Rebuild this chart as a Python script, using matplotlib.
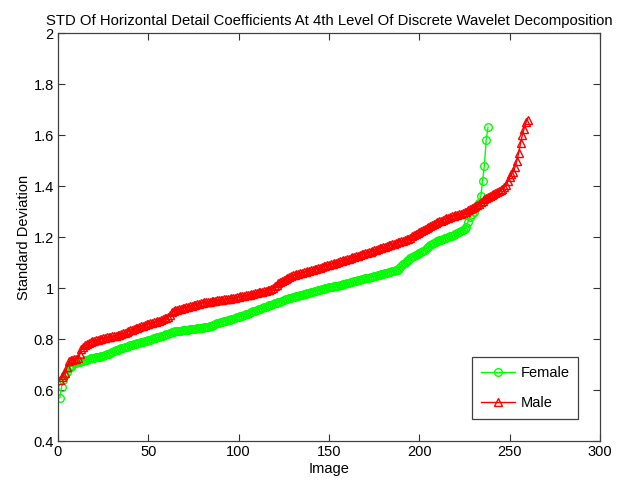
import matplotlib
matplotlib.use("Agg")
import matplotlib.pyplot as plt
import numpy as np

plt.rcParams['font.family'] = ['Liberation Sans', 'DejaVu Sans']

title = "STD Of Horizontal Detail Coefficients At 4th Level Of Discrete Wavelet Decomposition"
xlabel = "Image"
ylabel = "Standard Deviation"
series_names = ["Female", "Male"]
xticks = [0, 50, 100, 150, 200, 250, 300]
yticks = [0.4, 0.6, 0.8, 1.0, 1.2, 1.4, 1.6, 1.8, 2.0]
ytick_labels = ["0.4", "0.6", "0.8", "1", "1.2", "1.4", "1.6", "1.8", "2"]

female = [
    0.569, 0.613, 0.640, 0.659, 0.672, 0.685, 0.692, 0.699, 0.704, 0.707,
    0.709, 0.711, 0.713, 0.715, 0.717, 0.719, 0.722, 0.724, 0.726, 0.727,
    0.728, 0.730, 0.731, 0.733, 0.735, 0.737, 0.740, 0.743, 0.746, 0.749,
    0.752, 0.755, 0.758, 0.760, 0.763, 0.765, 0.767, 0.770, 0.772, 0.775,
    0.777, 0.779, 0.781, 0.783, 0.785, 0.787, 0.789, 0.791, 0.793, 0.795,
    0.797, 0.799, 0.802, 0.804, 0.806, 0.808, 0.811, 0.813, 0.815, 0.818,
    0.820, 0.823, 0.826, 0.828, 0.830, 0.831, 0.832, 0.833, 0.834, 0.835,
    0.836, 0.837, 0.838, 0.839, 0.840, 0.841, 0.842, 0.843, 0.844, 0.845,
    0.846, 0.847, 0.848, 0.850, 0.852, 0.855, 0.858, 0.861, 0.863, 0.866,
    0.868, 0.870, 0.872, 0.874, 0.876, 0.878, 0.880, 0.882, 0.885, 0.887,
    0.889, 0.891, 0.894, 0.897, 0.900, 0.902, 0.905, 0.908, 0.910, 0.913,
    0.916, 0.918, 0.921, 0.924, 0.927, 0.930, 0.933, 0.935, 0.938, 0.940,
    0.943, 0.945, 0.947, 0.950, 0.952, 0.955, 0.957, 0.960, 0.962, 0.964,
    0.966, 0.968, 0.970, 0.972, 0.974, 0.976, 0.978, 0.980, 0.982, 0.984,
    0.986, 0.988, 0.990, 0.992, 0.994, 0.996, 0.998, 1.000, 1.001, 1.002,
    1.004, 1.005, 1.006, 1.008, 1.009, 1.010, 1.012, 1.014, 1.016, 1.018,
    1.020, 1.022, 1.024, 1.026, 1.028, 1.030, 1.032, 1.034, 1.036, 1.038,
    1.040, 1.041, 1.043, 1.045, 1.047, 1.049, 1.050, 1.052, 1.054, 1.056,
    1.058, 1.060, 1.062, 1.064, 1.066, 1.068, 1.070, 1.072, 1.078, 1.085,
    1.093, 1.100, 1.106, 1.111, 1.116, 1.120, 1.124, 1.128, 1.132, 1.136,
    1.140, 1.145, 1.150, 1.156, 1.162, 1.168, 1.173, 1.178, 1.182, 1.185,
    1.188, 1.190, 1.193, 1.195, 1.197, 1.200, 1.202, 1.205, 1.208, 1.212,
    1.216, 1.220, 1.224, 1.228, 1.233, 1.240, 1.260, 1.280, 1.290, 1.300,
    1.310, 1.320, 1.335, 1.360, 1.420, 1.480, 1.580, 1.630,
]

male = [
    0.639, 0.650, 0.660, 0.667, 0.690, 0.712, 0.716, 0.719, 0.721, 0.723,
    0.725, 0.740, 0.760, 0.768, 0.775, 0.780, 0.784, 0.788, 0.791, 0.794,
    0.796, 0.798, 0.800, 0.801, 0.803, 0.804, 0.806, 0.807, 0.808, 0.810,
    0.811, 0.813, 0.815, 0.817, 0.820, 0.822, 0.825, 0.828, 0.831, 0.834,
    0.837, 0.839, 0.842, 0.844, 0.847, 0.850, 0.852, 0.855, 0.857, 0.860,
    0.862, 0.864, 0.866, 0.868, 0.870, 0.872, 0.875, 0.878, 0.881, 0.884,
    0.887, 0.895, 0.905, 0.911, 0.913, 0.915, 0.917, 0.919, 0.921, 0.923,
    0.925, 0.927, 0.929, 0.931, 0.933, 0.935, 0.937, 0.939, 0.941, 0.943,
    0.944, 0.945, 0.946, 0.947, 0.948, 0.949, 0.950, 0.951, 0.952, 0.953,
    0.954, 0.955, 0.956, 0.957, 0.958, 0.959, 0.960, 0.962, 0.964, 0.966,
    0.967, 0.968, 0.970, 0.971, 0.972, 0.974, 0.976, 0.978, 0.979, 0.981,
    0.983, 0.984, 0.986, 0.988, 0.990, 0.992, 0.994, 0.997, 1.001, 1.006,
    1.012, 1.018, 1.023, 1.027, 1.031, 1.035, 1.040, 1.044, 1.047, 1.050,
    1.052, 1.054, 1.056, 1.058, 1.060, 1.062, 1.064, 1.066, 1.068, 1.070,
    1.072, 1.074, 1.076, 1.078, 1.080, 1.082, 1.085, 1.088, 1.090, 1.092,
    1.094, 1.096, 1.098, 1.100, 1.102, 1.104, 1.106, 1.108, 1.110, 1.112,
    1.115, 1.117, 1.120, 1.122, 1.125, 1.127, 1.130, 1.132, 1.135, 1.137,
    1.139, 1.141, 1.143, 1.145, 1.148, 1.150, 1.152, 1.155, 1.157, 1.160,
    1.162, 1.164, 1.167, 1.169, 1.171, 1.174, 1.176, 1.179, 1.181, 1.184,
    1.186, 1.188, 1.191, 1.194, 1.198, 1.202, 1.206, 1.210, 1.214, 1.218,
    1.222, 1.226, 1.230, 1.234, 1.238, 1.242, 1.246, 1.250, 1.254, 1.258,
    1.261, 1.264, 1.267, 1.270, 1.273, 1.276, 1.279, 1.281, 1.283, 1.285,
    1.287, 1.289, 1.291, 1.294, 1.297, 1.300, 1.304, 1.308, 1.312, 1.316,
    1.320, 1.324, 1.330, 1.336, 1.342, 1.348, 1.352, 1.356, 1.360, 1.364,
    1.368, 1.372, 1.376, 1.380, 1.384, 1.388, 1.395, 1.405, 1.420, 1.437,
    1.446, 1.456, 1.475, 1.500, 1.530, 1.567, 1.600, 1.625, 1.650, 1.660,
]

fig = plt.figure(figsize=(6.21, 4.86), dpi=100)
ax = fig.add_axes([58/621, 1 - 441/486, 542/621, 408/486])

xf = np.arange(1, len(female) + 1)
xm = np.arange(1, len(male) + 1)
ax.plot(xf, female, color=(0, 1, 0), lw=1.0, marker='o', ms=5.5,
        mfc='none', mec=(0, 1, 0), mew=1.0, label=series_names[0])
ax.plot(xm, male, color=(1, 0, 0), lw=1.0, marker='^', ms=5.5,
        mfc='none', mec=(1, 0, 0), mew=1.0, label=series_names[1])

ax.set_xlim(0, 300)
ax.set_ylim(0.4, 2.0)
ax.set_xticks(xticks)
ax.set_yticks(yticks)
ax.set_yticklabels(ytick_labels)
ax.tick_params(direction='in', top=True, right=True, labelsize=10.5,
               length=5, width=0.8, color='#333333', pad=3)
for s in ax.spines.values():
    s.set_color('#404040')
    s.set_linewidth(0.9)

ax.set_title(title, fontsize=10.7, pad=6)
ax.set_xlabel(xlabel, fontsize=10.5, labelpad=2)
ax.set_ylabel(ylabel, fontsize=10.5, labelpad=2)

leg = ax.legend(loc='lower right', bbox_to_anchor=(0.96, 0.054), fontsize=10.5,
                fancybox=False, edgecolor='#404040', framealpha=1,
                handlelength=2.3, borderpad=0.6, labelspacing=1.1,
                handletextpad=0.4, borderaxespad=0)
leg.get_frame().set_linewidth(0.9)

fig.savefig("out.png", dpi=100)
